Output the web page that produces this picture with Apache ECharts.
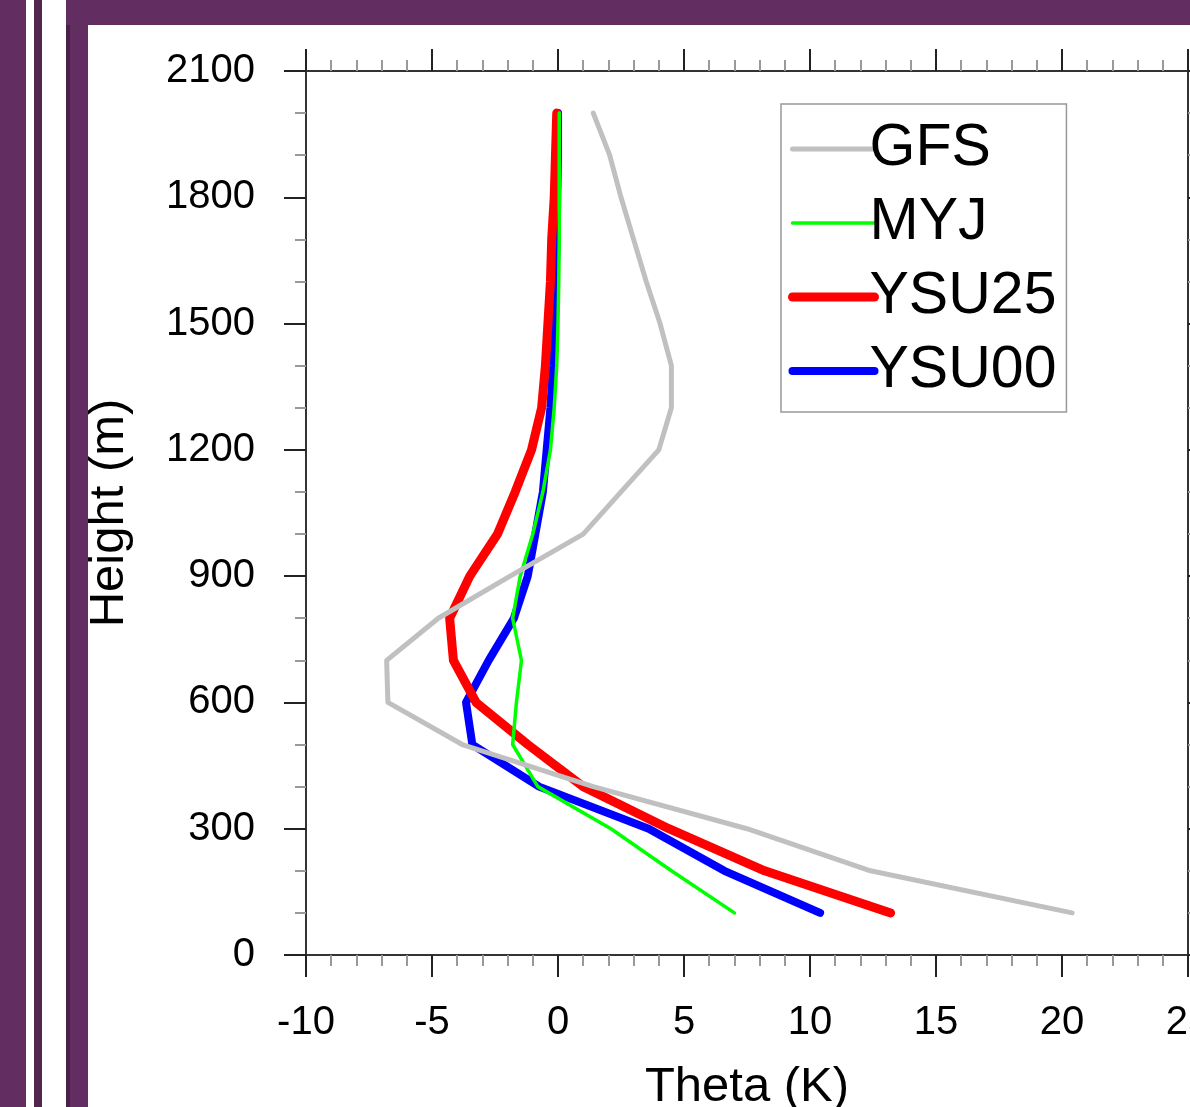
<!DOCTYPE html>
<html>
<head>
<meta charset="utf-8">
<script src="https://cdn.jsdelivr.net/npm/echarts@6/dist/echarts.min.js"></script>
<style>
  html, body { margin: 0; padding: 0; background: #fff; overflow: hidden; }
  #chart { width: 1190px; height: 1107px; }
</style>
</head>
<body>
<div id="chart"></div>
<script>
// heights (m) of the model levels
var heights = [100, 200, 300, 400, 500, 600, 700, 800, 900, 1000,
               1100, 1200, 1300, 1400, 1500, 1600, 1700, 1800, 1900, 2000];
// theta (K) per series, one value per height
var gfs   = [20.4, 12.4, 7.5, 1.4, -3.8, -6.75, -6.8, -4.75, -1.9, 1.0,
             2.5, 4.0, 4.5, 4.5, 4.05, 3.5, 3.0, 2.5, 2.05, 1.4];
var myj   = [7.0, 4.5, 2.1, -0.8, -1.8, -1.65, -1.45, -1.8, -1.5, -1.0,
             -0.6, -0.3, -0.15, -0.05, 0.0, 0.03, 0.05, 0.05, 0.05, 0.05];
var ysu25 = [13.2, 8.2, 4.4, 1.0, -1.2, -3.25, -4.15, -4.3, -3.5, -2.4,
             -1.7, -1.05, -0.65, -0.5, -0.4, -0.3, -0.25, -0.15, -0.1, -0.05];
var ysu00 = [10.4, 6.6, 3.6, -0.75, -3.4, -3.65, -2.75, -1.75, -1.2, -0.9,
             -0.6, -0.45, -0.3, -0.2, -0.15, -0.1, -0.05, -0.03, 0.0, 0.0];
var names = ['GFS', 'MYJ', 'YSU25', 'YSU00'];
var colors = ['#c0c0c0', '#00ff00', '#ff0000', '#0000ff'];
var widths = [5, 3.5, 9, 8];
var zs = [8, 7, 6, 5];   // gray drawn on top, blue at the bottom

function pairs(vals) {
    return vals.map(function (v, i) { return [v, heights[i]]; });
}
var allData = [gfs, myj, ysu25, ysu00];

var font = 'Liberation Sans, Arial, Helvetica, sans-serif';
var purple = '#622d60';

function axisBase(extra) {
    var a = {
        axisLine: { show: true, onZero: false, lineStyle: { color: '#333', width: 2 } },
        axisTick: { show: true, inside: false, length: 22, lineStyle: { color: '#222', width: 2 } },
        splitLine: { show: false },
        minorSplitLine: { show: false }
    };
    for (var k in extra) a[k] = extra[k];
    return a;
}
var minorX = { show: true, splitNumber: 5, length: 11, lineStyle: { color: '#999', width: 2 } };
var minorY = { show: true, splitNumber: 3, length: 11, lineStyle: { color: '#999', width: 2 } };

var chart = echarts.init(document.getElementById('chart'));
chart.setOption({
    animation: false,
    backgroundColor: '#fff',
    textStyle: { fontFamily: font },
    graphic: [
        { type: 'rect', shape: { x: 0, y: 0, width: 26, height: 1107 }, style: { fill: purple }, silent: true },
        { type: 'rect', shape: { x: 34, y: 0, width: 8, height: 1107 }, style: { fill: '#52254f' }, silent: true },
        { type: 'rect', shape: { x: 66, y: 0, width: 22, height: 1107 }, style: { fill: purple }, silent: true },
        { type: 'rect', shape: { x: 66, y: 0, width: 4, height: 1107 }, style: { fill: '#4a2147' }, silent: true },
        { type: 'rect', shape: { x: 66, y: 0, width: 1124, height: 25 }, style: { fill: purple }, silent: true }
    ],
    grid: { left: 306, top: 71, right: 2, bottom: 152, containLabel: false, outerBoundsMode: 'none' },
    legend: {
        orient: 'vertical',
        left: 781,
        top: 104,
        padding: [8, 10, 4, 7],
        itemGap: 0,
        itemWidth: 82,
        itemHeight: 20,
        backgroundColor: '#fff',
        borderColor: '#999',
        borderWidth: 1.5,
        borderRadius: 0,
        itemStyle: { opacity: 0 },
        data: names.map(function (n, i) {
            return { name: n, lineStyle: { width: widths[i], color: colors[i], cap: 'round' } };
        }),
        textStyle: { fontSize: 59, lineHeight: 74, color: '#000', fontFamily: font, padding: [0, 0, 0, -10] }
    },
    xAxis: [
        axisBase({
            type: 'value', position: 'bottom', min: -10, max: 25, interval: 5,
            name: 'Theta (K)', nameLocation: 'middle', nameGap: 108,
            nameTextStyle: { fontSize: 49, color: '#000', fontFamily: font },
            minorTick: minorX,
            axisLabel: { fontSize: 40, color: '#000', margin: 48, fontFamily: font,
                         formatter: function (v) { return String(v); } }
        }),
        axisBase({
            type: 'value', position: 'top', min: -10, max: 25, interval: 5,
            minorTick: minorX,
            axisLabel: { show: false }
        })
    ],
    yAxis: [
        axisBase({
            type: 'value', position: 'left', min: 0, max: 2100, interval: 300,
            name: 'Height (m)', nameLocation: 'middle', nameGap: 172, nameRotate: 90,
            nameTextStyle: { fontSize: 49, color: '#000', fontFamily: font },
            minorTick: minorY,
            axisLabel: { fontSize: 40, color: '#000', margin: 51, fontFamily: font,
                         formatter: function (v) { return String(v); } }
        }),
        axisBase({
            type: 'value', position: 'right', min: 0, max: 2100, interval: 300,
            minorTick: minorY,
            axisLabel: { show: false }
        })
    ],
    series: names.map(function (n, i) {
        return {
            name: n,
            type: 'line',
            xAxisIndex: 0,
            yAxisIndex: 0,
            symbol: 'none',
            smooth: false,
            z: zs[i],
            color: colors[i],
            lineStyle: { color: colors[i], width: widths[i], cap: 'round', join: 'round' },
            data: pairs(allData[i])
        };
    })
});
</script>
</body>
</html>
